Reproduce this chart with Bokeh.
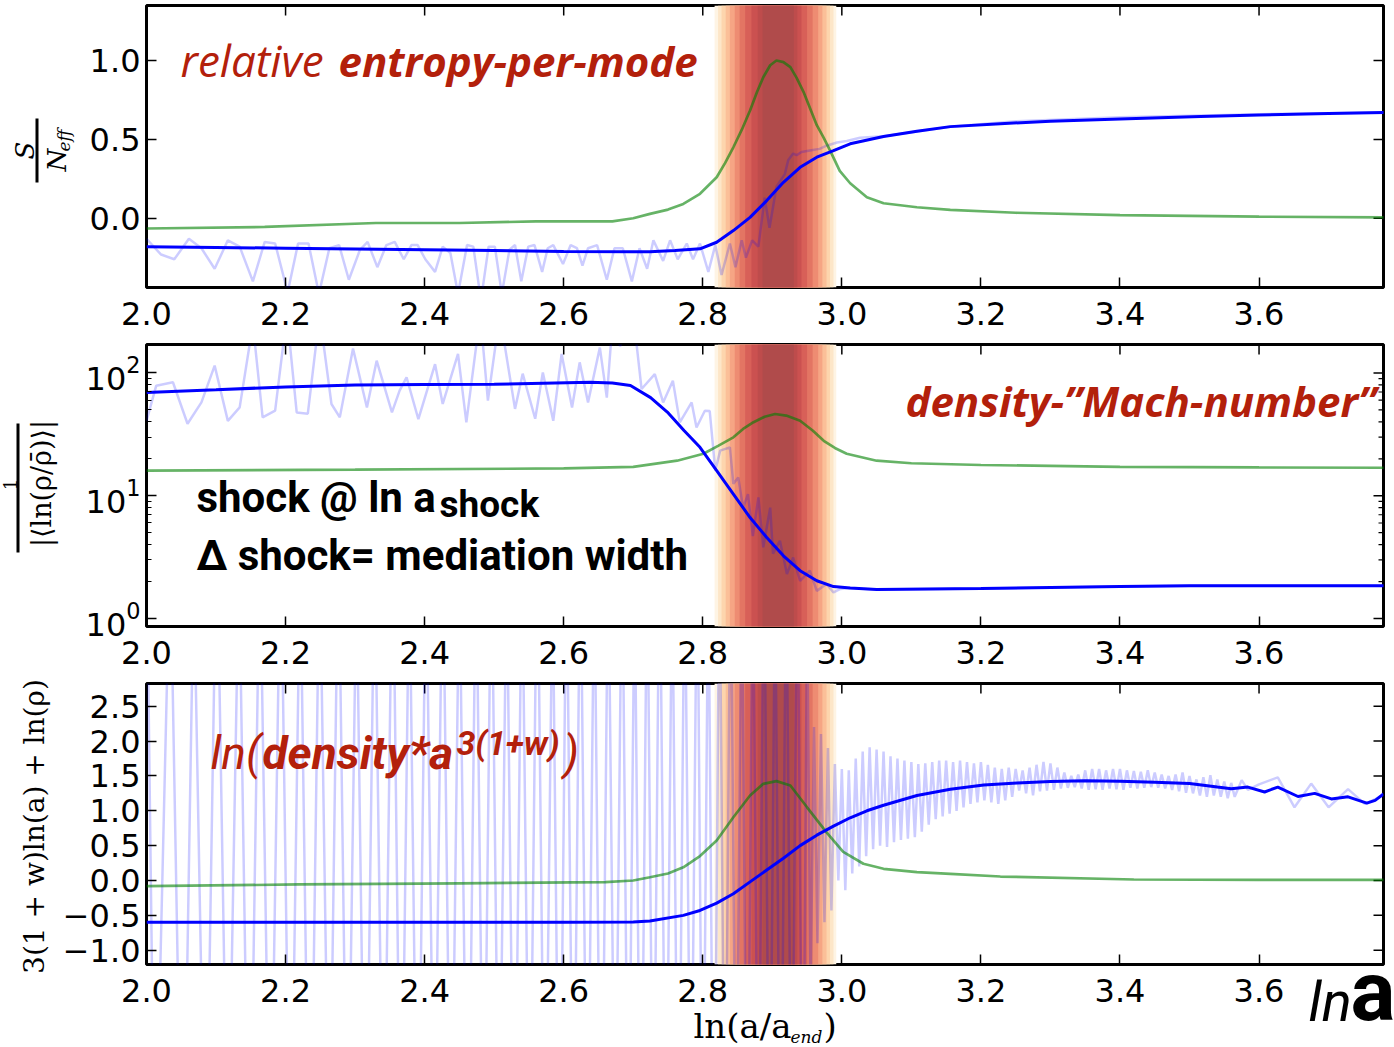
import math
from bokeh.plotting import figure
from bokeh.layouts import column
from bokeh.models import Range1d, FixedTicker, Label, BoxAnnotation
from bokeh.embed import file_html
from bokeh.resources import INLINE

# ---------------------------------------------------------------- data
x_ticks = [2.0, 2.2, 2.4, 2.6, 2.8, 3.0, 3.2, 3.4, 3.6]
x_tick_labels = ["2.0", "2.2", "2.4", "2.6", "2.8", "3.0", "3.2", "3.4", "3.6"]

p1_yticks = [0.0, 0.5, 1.0]
p1_ytick_labels = ["0.0", "0.5", "1.0"]
p2_yticks = [1, 10, 100]
p2_yminor = [2, 3, 4, 5, 6, 7, 8, 9, 20, 30, 40, 50, 60, 70, 80, 90]
p3_yticks = [-1.0, -0.5, 0.0, 0.5, 1.0, 1.5, 2.0, 2.5]
p3_ytick_labels = ["\u22121.0", "\u22120.5", "0.0", "0.5", "1.0", "1.5", "2.0", "2.5"]

# shock-mediation band (nested stripes, outer -> inner)
band_left = [2.817, 2.822, 2.827, 2.833, 2.839, 2.846, 2.853, 2.861, 2.870, 2.879, 2.886]
band_right = [2.992, 2.988, 2.983, 2.978, 2.972, 2.966, 2.958, 2.950, 2.942, 2.936, 2.931]
band_colors = ["#fef4e4", "#fde6c8", "#fdd5ad", "#fbbf98", "#f6a584", "#ee8c72",
               "#e37563", "#d86058", "#cb5150", "#be4c4c", "#b04b4b"]

# panel 1: relative entropy per mode
p1_raw_x = [2.000, 2.021, 2.040, 2.061, 2.079, 2.098, 2.117, 2.134, 2.153, 2.170,
            2.185, 2.203, 2.218, 2.233, 2.248, 2.263, 2.277, 2.291, 2.307, 2.318,
            2.332, 2.345, 2.357, 2.370, 2.381, 2.390, 2.401, 2.415, 2.426, 2.437,
            2.448, 2.461, 2.470, 2.481, 2.492, 2.501, 2.511, 2.522, 2.530, 2.539,
            2.549, 2.558, 2.569, 2.577, 2.585, 2.599, 2.610, 2.619, 2.627, 2.635,
            2.648, 2.662, 2.673, 2.685, 2.698, 2.709, 2.720, 2.729, 2.743, 2.753,
            2.764, 2.777, 2.786, 2.796, 2.808, 2.818, 2.827, 2.839, 2.847, 2.856,
            2.862, 2.871, 2.880, 2.889, 2.896, 2.906, 2.918, 2.923, 2.930, 2.935,
            2.942, 2.954, 2.968, 2.978, 2.993, 3.007, 3.026, 3.060, 3.108, 3.156,
            3.25, 3.4, 3.6, 3.78]
p1_raw_y = [-0.13, -0.23, -0.26, -0.13, -0.19, -0.32, -0.14, -0.18, -0.40, -0.15,
            -0.16, -0.47, -0.16, -0.16, -0.48, -0.19, -0.17, -0.39, -0.20, -0.15,
            -0.31, -0.17, -0.15, -0.26, -0.17, -0.17, -0.26, -0.34, -0.18, -0.22,
            -0.48, -0.17, -0.18, -0.52, -0.18, -0.18, -0.48, -0.20, -0.17, -0.40,
            -0.18, -0.17, -0.34, -0.19, -0.17, -0.29, -0.17, -0.19, -0.30, -0.19,
            -0.17, -0.39, -0.19, -0.19, -0.40, -0.19, -0.32, -0.14, -0.27, -0.14,
            -0.26, -0.16, -0.26, -0.16, -0.34, -0.17, -0.36, -0.16, -0.31, -0.14,
            -0.25, -0.14, -0.18, 0.13, -0.06, 0.20, 0.28, 0.37, 0.41, 0.40,
            0.42, 0.43, 0.44, 0.46, 0.48, 0.49, 0.51, 0.52, 0.55, 0.58,
            0.615, 0.64, 0.66, 0.67]
p1_x = [2.0, 2.1, 2.2, 2.3, 2.4, 2.5, 2.6, 2.7, 2.724, 2.76,
        2.796, 2.82, 2.844, 2.868, 2.892, 2.916, 2.94, 2.964, 2.988, 3.012,
        3.06, 3.108, 3.156, 3.228, 3.3, 3.4, 3.516, 3.6, 3.7, 3.78]
p1_blue = [-0.18, -0.185, -0.19, -0.195, -0.20, -0.205, -0.21, -0.213, -0.213, -0.205,
           -0.194, -0.152, -0.078, 0.006, 0.112, 0.228, 0.323, 0.387, 0.429, 0.472,
           0.518, 0.552, 0.581, 0.60, 0.615, 0.63, 0.645, 0.655, 0.665, 0.67]
p1_gx = [2.0, 2.17, 2.33, 2.45, 2.56, 2.67, 2.70, 2.724, 2.75, 2.772,
         2.796, 2.82, 2.832, 2.844, 2.856, 2.868, 2.878, 2.887, 2.897, 2.906,
         2.916, 2.926, 2.935, 2.945, 2.955, 2.964, 2.974, 2.983, 2.997, 3.012,
         3.036, 3.06, 3.108, 3.156, 3.25, 3.4, 3.6, 3.78]
p1_green = [-0.065, -0.055, -0.03, -0.03, -0.02, -0.02, 0.0, 0.028, 0.055, 0.091,
            0.155, 0.26, 0.35, 0.45, 0.56, 0.683, 0.80, 0.894, 0.97, 1.0,
            0.99, 0.958, 0.89, 0.80, 0.69, 0.59, 0.51, 0.43, 0.30, 0.222,
            0.133, 0.095, 0.07, 0.053, 0.035, 0.02, 0.01, 0.005]

# panel 2: density "Mach number"
p2_raw_x = [2.000, 2.014, 2.038, 2.059, 2.079, 2.098, 2.117, 2.134, 2.153, 2.167,
            2.185, 2.202, 2.216, 2.232, 2.249, 2.266, 2.278, 2.297, 2.317, 2.331,
            2.353, 2.364, 2.374, 2.391, 2.415, 2.426, 2.448, 2.460, 2.480, 2.491,
            2.508, 2.530, 2.541, 2.559, 2.570, 2.585, 2.597, 2.612, 2.623, 2.635,
            2.652, 2.662, 2.671, 2.681, 2.700, 2.712, 2.731, 2.743, 2.757, 2.767,
            2.784, 2.791, 2.803, 2.810, 2.818, 2.825, 2.839, 2.844, 2.851, 2.858,
            2.865, 2.872, 2.880, 2.887, 2.897, 2.901, 2.911, 2.921, 2.930, 2.940,
            2.954, 2.964, 2.978, 2.988, 2.998, 3.012, 3.05, 3.2, 3.4, 3.5, 3.78]
p2_raw_y = [40.7, 78.8, 84, 38.6, 57.6, 114.8, 40.7, 52.5, 250, 43.5,
            49.3, 300, 47.7, 46.6, 300, 55.9, 43.5, 158, 52.4, 126,
            47.7, 71.8, 92, 42, 118, 56, 143, 39.6, 300, 59.5,
            300, 51, 98.7, 42.4, 101, 40.8, 143, 52.4, 122, 57.6,
            161, 63, 300, 165, 300, 74, 98, 57.6, 86.5, 39.6,
            57.6, 36, 49.3, 49, 16, 23.3, 24.8, 12.5, 14.1, 8.0,
            10.3, 4.7, 9.7, 3.8, 8.0, 3.37, 4.3, 2.3, 3.14, 2.03,
            2.45, 1.68, 1.91, 1.63, 1.74, 1.77, 1.72, 1.76, 1.82, 1.85, 1.85]
p2_x = [2.0, 2.1, 2.2, 2.3, 2.4, 2.5, 2.638, 2.67, 2.696, 2.725,
        2.749, 2.773, 2.796, 2.82, 2.844, 2.868, 2.892, 2.916, 2.94, 2.964,
        2.988, 3.012, 3.05, 3.2, 3.4, 3.5, 3.78]
p2_blue = [69.5, 73, 77, 80, 80.5, 81, 84, 83, 79, 63,
           48, 34, 24.8, 16, 10.3, 6.65, 4.57, 3.24, 2.45, 2.03,
           1.82, 1.77, 1.72, 1.76, 1.82, 1.85, 1.85]
p2_gx = [2.0, 2.3, 2.6, 2.7, 2.763, 2.801, 2.822, 2.844, 2.858, 2.873,
         2.889, 2.904, 2.92, 2.94, 2.958, 2.974, 2.99, 3.007, 3.05, 3.1,
         3.2, 3.4, 3.6, 3.78]
p2_green = [16.0, 16.3, 16.7, 17.2, 19.3, 22.0, 25.5, 29.9, 35.0, 39.7,
            44.0, 46.3, 45.0, 40.8, 34.0, 28.0, 24.5, 22.0, 19.3, 18.4,
            17.8, 17.2, 17.0, 16.9]

# panel 3: ln(density * a^{3(1+w)})
p3_early_x = [2.000, 2.012, 2.034, 2.052, 2.068, 2.085, 2.101, 2.117, 2.133, 2.148,
              2.163, 2.178, 2.193, 2.207, 2.221, 2.235, 2.249, 2.263, 2.276, 2.289,
              2.302, 2.315, 2.328, 2.341, 2.354, 2.366, 2.378, 2.390, 2.402, 2.414,
              2.426, 2.438, 2.450, 2.462, 2.474, 2.485, 2.496, 2.507, 2.518, 2.529,
              2.540, 2.551, 2.562, 2.573, 2.584, 2.594, 2.604, 2.614, 2.624, 2.634,
              2.644, 2.654, 2.664, 2.674, 2.684, 2.693, 2.702, 2.711, 2.720, 2.729,
              2.738, 2.747, 2.756, 2.765, 2.774, 2.783, 2.792, 2.800, 2.808, 2.816,
              2.824, 2.832, 2.840, 2.848, 2.856, 2.864, 2.872, 2.880, 2.888, 2.896,
              2.904, 2.912, 2.920, 2.928, 2.936, 2.944]
p3_early_y = [5.0, -4.6, 4.8, -5.2, 4.4, -4.8, 5.2, -4.4, 4.6, -5.0,
              4.8, -4.6, 5.0, -4.8, 4.6, -5.2, 4.8, -4.4, 5.0, -4.6,
              4.4, -5.0, 4.8, -4.6, 5.2, -4.8, 4.6, -5.0, 4.8, -4.4,
              5.0, -4.8, 4.6, -5.2, 4.8, -4.6, 5.0, -4.4, 4.6, -5.0,
              4.8, -4.6, 5.2, -4.8, 4.4, -5.0, 4.8, -4.6, 5.0, -4.8,
              4.6, -5.2, 4.8, -4.4, 5.0, -4.6, 4.4, -5.0, 4.8, -4.6,
              5.2, -4.8, 4.6, -5.0, 4.8, -4.4, 5.0, -4.8, 4.6, -5.2,
              4.8, -4.6, 5.0, -4.4, 4.6, -5.0, 4.8, -4.6, 5.2, -4.8,
              4.4, -5.0, 4.8, -4.6, 5.0, -4.8]
p3_tail_x = [2.950, 2.955, 2.960, 2.965, 2.970, 2.975, 2.980, 2.985, 2.990, 2.995,
             3.000, 3.005, 3.010, 3.015, 3.020, 3.025, 3.030, 3.035, 3.040, 3.045,
             3.050, 3.055, 3.060, 3.065, 3.070, 3.075, 3.080, 3.085, 3.090, 3.095,
             3.100, 3.105, 3.110, 3.115, 3.120, 3.125, 3.130, 3.135, 3.140, 3.145,
             3.150, 3.155, 3.160, 3.165, 3.170, 3.175, 3.180, 3.185, 3.190, 3.195,
             3.200, 3.205, 3.210, 3.215, 3.220, 3.225, 3.230, 3.235, 3.240, 3.245,
             3.250, 3.255, 3.260, 3.265, 3.270, 3.275, 3.280, 3.285, 3.290, 3.295,
             3.300, 3.305, 3.310, 3.315, 3.320, 3.325, 3.330, 3.335, 3.340, 3.345,
             3.350, 3.355, 3.360, 3.365, 3.370, 3.375, 3.380, 3.385, 3.390, 3.395,
             3.400, 3.405, 3.410, 3.415, 3.420, 3.425, 3.430, 3.435, 3.440, 3.445,
             3.450, 3.455, 3.460, 3.465, 3.470, 3.475, 3.480, 3.485, 3.490, 3.495,
             3.500, 3.505, 3.510, 3.515, 3.520, 3.525, 3.530, 3.535, 3.540, 3.545,
             3.550, 3.555, 3.560, 3.565, 3.575, 3.584, 3.600, 3.627, 3.651, 3.675,
             3.700, 3.728, 3.752, 3.779]
p3_tail_y = [4.0, -1.6, 2.2, -0.9, 2.1, -0.6, 1.9, -0.43, 1.67, 0.0,
             1.60, -0.14, 1.58, 0.10, 1.75, 0.20, 1.85, 0.35, 1.91, 0.45,
             1.88, 0.50, 1.85, 0.48, 1.78, 0.55, 1.75, 0.58, 1.72, 0.60,
             1.70, 0.62, 1.67, 0.70, 1.68, 0.80, 1.70, 0.88, 1.72, 0.92,
             1.72, 0.96, 1.70, 1.00, 1.72, 1.05, 1.70, 1.10, 1.68, 1.12,
             1.70, 1.15, 1.66, 1.12, 1.62, 1.10, 1.60, 1.15, 1.62, 1.20,
             1.60, 1.29, 1.58, 1.25, 1.62, 1.22, 1.66, 1.28, 1.70, 1.29,
             1.68, 1.30, 1.62, 1.32, 1.55, 1.33, 1.50, 1.34, 1.52, 1.32,
             1.58, 1.30, 1.60, 1.31, 1.60, 1.30, 1.58, 1.32, 1.60, 1.31,
             1.60, 1.30, 1.58, 1.33, 1.57, 1.32, 1.56, 1.33, 1.58, 1.34,
             1.55, 1.33, 1.52, 1.32, 1.50, 1.30, 1.52, 1.28, 1.55, 1.26,
             1.50, 1.25, 1.45, 1.22, 1.48, 1.20, 1.51, 1.22, 1.45, 1.20,
             1.42, 1.18, 1.40, 1.20, 1.44, 1.30, 1.38, 1.48, 1.05, 1.39,
             1.05, 1.31, 1.10, 1.22]
p3_x = [2.0, 2.2, 2.4, 2.6, 2.7, 2.724, 2.772, 2.796, 2.82, 2.844,
        2.868, 2.892, 2.916, 2.94, 2.964, 2.988, 3.012, 3.036, 3.06, 3.108,
        3.156, 3.204, 3.252, 3.3, 3.35, 3.4, 3.45, 3.5, 3.54, 3.56,
        3.584, 3.608, 3.627, 3.656, 3.68, 3.704, 3.728, 3.755, 3.767, 3.779]
p3_blue = [-0.60, -0.60, -0.60, -0.60, -0.595, -0.58, -0.50, -0.43, -0.325, -0.19,
           -0.02, 0.15, 0.32, 0.50, 0.65, 0.78, 0.90, 1.00, 1.08, 1.22,
           1.31, 1.37, 1.40, 1.42, 1.43, 1.425, 1.41, 1.39, 1.34, 1.317,
           1.34, 1.27, 1.34, 1.205, 1.25, 1.17, 1.20, 1.11, 1.15, 1.24]
p3_gx = [2.0, 2.22, 2.45, 2.66, 2.70, 2.724, 2.75, 2.772, 2.796, 2.82,
         2.844, 2.868, 2.887, 2.906, 2.926, 2.95, 2.978, 3.002, 3.031, 3.06,
         3.108, 3.156, 3.228, 3.42, 3.6, 3.78]
p3_green = [-0.082, -0.057, -0.04, -0.024, 0.0, 0.047, 0.10, 0.19, 0.35, 0.574,
            0.908, 1.22, 1.387, 1.425, 1.363, 1.05, 0.69, 0.41, 0.24, 0.168,
            0.12, 0.096, 0.057, 0.014, 0.01, 0.01]

# ---------------------------------------------------------------- style
RED = "#b3200b"
TICK_FONT = "DejaVu Sans"
MATH_FONT = "DejaVu Serif"
CAL_FONT = "Open Sans"
COND = "Roboto"
# distance between Bokeh's label anchor and the real alphabetic baseline (em)
BASE_OFF = {"Open Sans": 0.37, "Roboto": 0.37, "DejaVu Serif": 0.22, "DejaVu Sans": 0.22}
FRAME_LEFT = 146
FRAME_RIGHT = 1383
X_START, X_END = 2.0, 3.779
W, H = 1394, 1047
TICK = 10
MINOR = 5
ROT = math.pi / 2


def make_fig(height, top, bottom, y_range, log=False):
    p = figure(width=W, height=height, x_range=Range1d(X_START, X_END), y_range=y_range,
               y_axis_type="log" if log else "linear", output_backend="svg",
               toolbar_location=None, min_border_left=FRAME_LEFT,
               min_border_right=W - FRAME_RIGHT, min_border_top=top, min_border_bottom=bottom)
    p.xgrid.visible = False
    p.ygrid.visible = False
    p.outline_line_color = "black"
    p.outline_line_width = 3
    p.outline_line_alpha = 1.0
    p.background_fill_color = "white"
    p.border_fill_color = "white"
    return p


def style_axis(ax, ticks, minor, labels, standoff):
    ax.ticker = FixedTicker(ticks=ticks, minor_ticks=minor)
    ax.axis_line_color = None
    ax.major_tick_in = TICK
    ax.major_tick_out = 0
    ax.major_tick_line_width = 1.5
    ax.major_tick_line_color = "black"
    ax.minor_tick_in = MINOR
    ax.minor_tick_out = 0
    ax.minor_tick_line_width = 1.2
    ax.minor_tick_line_color = "black"
    ax.major_label_text_font = TICK_FONT
    ax.major_label_text_font_size = "32px"
    ax.major_label_text_color = "black"
    ax.major_label_standoff = standoff
    if labels is not None:
        ax.major_label_overrides = {t: s for t, s in zip(ticks, labels)}


def mirror_ticks(p, frame_h, y0, y1, yticks, yminor, log=False):
    """Inside ticks on the top and right frame edges (matplotlib classic look)."""
    fw = FRAME_RIGHT - FRAME_LEFT
    n = len(x_ticks)
    if log:
        ty = y1 / 10 ** (TICK * math.log10(y1 / y0) / frame_h)
    else:
        ty = y1 - TICK * (y1 - y0) / frame_h
    p.segment(x0=x_ticks, x1=x_ticks, y0=[y1] * n, y1=[ty] * n,
              line_color="black", line_width=1.5)
    dx = TICK * (X_END - X_START) / fw
    p.segment(x0=[X_END] * len(yticks), x1=[X_END - dx] * len(yticks), y0=yticks, y1=yticks,
              line_color="black", line_width=1.5)
    if yminor:
        dxm = MINOR * (X_END - X_START) / fw
        p.segment(x0=[X_END] * len(yminor), x1=[X_END - dxm] * len(yminor), y0=yminor,
                  y1=yminor, line_color="black", line_width=1.2)


def dress(p, frame_h, y0, y1, yticks, yminor, ylabels, log=False):
    style_axis(p.xaxis[0], x_ticks, [], x_tick_labels, 14)
    style_axis(p.yaxis[0], yticks, yminor, ylabels, 6)
    for l, r, c in zip(band_left, band_right, band_colors):
        p.add_layout(BoxAnnotation(left=l, right=r, fill_color=c, fill_alpha=1.0,
                                   line_color=None, level="underlay"))
    mirror_ticks(p, frame_h, y0, y1, yticks, yminor, log)


def draw_lines(p, rx, ry, bx, by, gx, gy):
    p.line(rx, ry, line_color="blue", line_alpha=0.2, line_width=2.5)
    p.line(gx, gy, line_color="green", line_alpha=0.6, line_width=2.7)
    p.line(bx, by, line_color="blue", line_width=3)


# ---------------------------------------------------------------- panels
Y1 = (-0.439, 1.349)
p1 = make_fig(340, 5, 53, Range1d(*Y1))
dress(p1, 282, Y1[0], Y1[1], p1_yticks, [], p1_ytick_labels)
draw_lines(p1, p1_raw_x, p1_raw_y, p1_x, p1_blue, p1_gx, p1_green)

Y2 = (0.861, 170.6)
p2 = make_fig(337, 4, 51, Range1d(*Y2), log=True)
dress(p2, 282, Y2[0], Y2[1], p2_yticks, p2_yminor, None, log=True)
draw_lines(p2, p2_raw_x, p2_raw_y, p2_x, p2_blue, p2_gx, p2_green)

Y3 = (-1.205, 2.826)
p3 = make_fig(370, 6, 83, Range1d(*Y3))
dress(p3, 281, Y3[0], Y3[1], p3_yticks, [], p3_ytick_labels)
draw_lines(p3, p3_early_x + p3_tail_x, p3_early_y + p3_tail_y, p3_x, p3_blue, p3_gx, p3_green)

# ---------------------------------------------------------------- text overlay
# a transparent full-page canvas laid over the three panels carries every
# annotation, so texts outside the panel frames are not clipped
ov = figure(width=W, height=H, x_range=Range1d(0, 1), y_range=Range1d(0, 1),
            output_backend="svg", toolbar_location=None, title=None,
            x_axis_location=None, y_axis_location=None, min_border=0,
            margin=(-H, 0, 0, 0))
ov.xgrid.visible = False
ov.ygrid.visible = False
ov.outline_line_color = None
ov.background_fill_color = None
ov.border_fill_color = None
try:
    ov.frame_align = False
    SHIFT = 0
except AttributeError:
    SHIFT = FRAME_LEFT


def otext(px, py, text, size, font, style="normal", color="black", rot=False, align="left"):
    """Text with its alphabetic baseline at page (px, py)."""
    off = BASE_OFF[font] * size
    if rot:
        x, y, ang = px - off, H - py, ROT
    else:
        x, y, ang = px, H - py + off, 0.0
    ov.add_layout(Label(x=x - SHIFT, y=y, x_units="screen", y_units="screen", text=text,
                        text_font=font, text_font_size=f"{size}px", text_font_style=style,
                        text_color=color, angle=ang, text_align=align,
                        text_baseline="alphabetic"))


def obar(x0, x1, y0, y1):
    ov.add_layout(BoxAnnotation(left=x0 - SHIFT, right=x1 - SHIFT, top=H - y0, bottom=H - y1,
                                left_units="screen", right_units="screen",
                                top_units="screen", bottom_units="screen",
                                fill_color="black", fill_alpha=1.0, line_color=None))


# panel 1 texts
otext(180, 76, "relative", 44, CAL_FONT, "italic", RED)
otext(338, 76, "entropy-per-mode", 42, CAL_FONT, "bold italic", RED)
otext(30, 150, "S", 26, MATH_FONT, "italic", rot=True, align="center")
obar(35, 38, 118, 182)
otext(62, 171, "N", 26, MATH_FONT, "italic", rot=True)
otext(67, 151, "eff", 17, MATH_FONT, "italic", rot=True)

# panel 2 texts
otext(905, 416, "density-\u201dMach-number\u201d", 42, CAL_FONT, "bold italic", RED)
otext(196, 513, "shock @ ln a", 42, COND, "bold")
otext(439, 518, "shock", 37, COND, "bold")
otext(196, 571, "\u0394 shock= mediation width", 42, COND, "bold")
otext(13, 484, "1", 18, MATH_FONT, rot=True, align="center")
obar(16, 19, 423, 552)
otext(47, 483, "|\u27e8ln(\u03c1/\u03c1\u0304)\u27e9|", 27, MATH_FONT, rot=True, align="center")

# panel 3 texts
otext(210, 770, "ln(", 46, COND, "italic", RED)
otext(262, 770, "density*a", 46, COND, "bold italic", RED)
otext(456, 755, "3(1+w)", 34, COND, "bold italic", RED)
otext(563, 770, ")", 46, COND, "italic", RED)
otext(40, 826, "3(1 + w)ln(a) + ln(\u03c1)", 28, MATH_FONT, rot=True, align="center")
otext(693, 1033, "ln(a/a", 34, MATH_FONT)
otext(790, 1040, "end", 17, MATH_FONT, "italic")
otext(823, 1033, ")", 34, MATH_FONT)
otext(1308, 1022, "ln", 56, COND, "italic")
otext(1350, 1022, "a", 84, COND, "bold")

layout = column(p1, p2, p3, ov, spacing=0)
open("out.html", "w").write(file_html(layout, INLINE, title="shock"))
